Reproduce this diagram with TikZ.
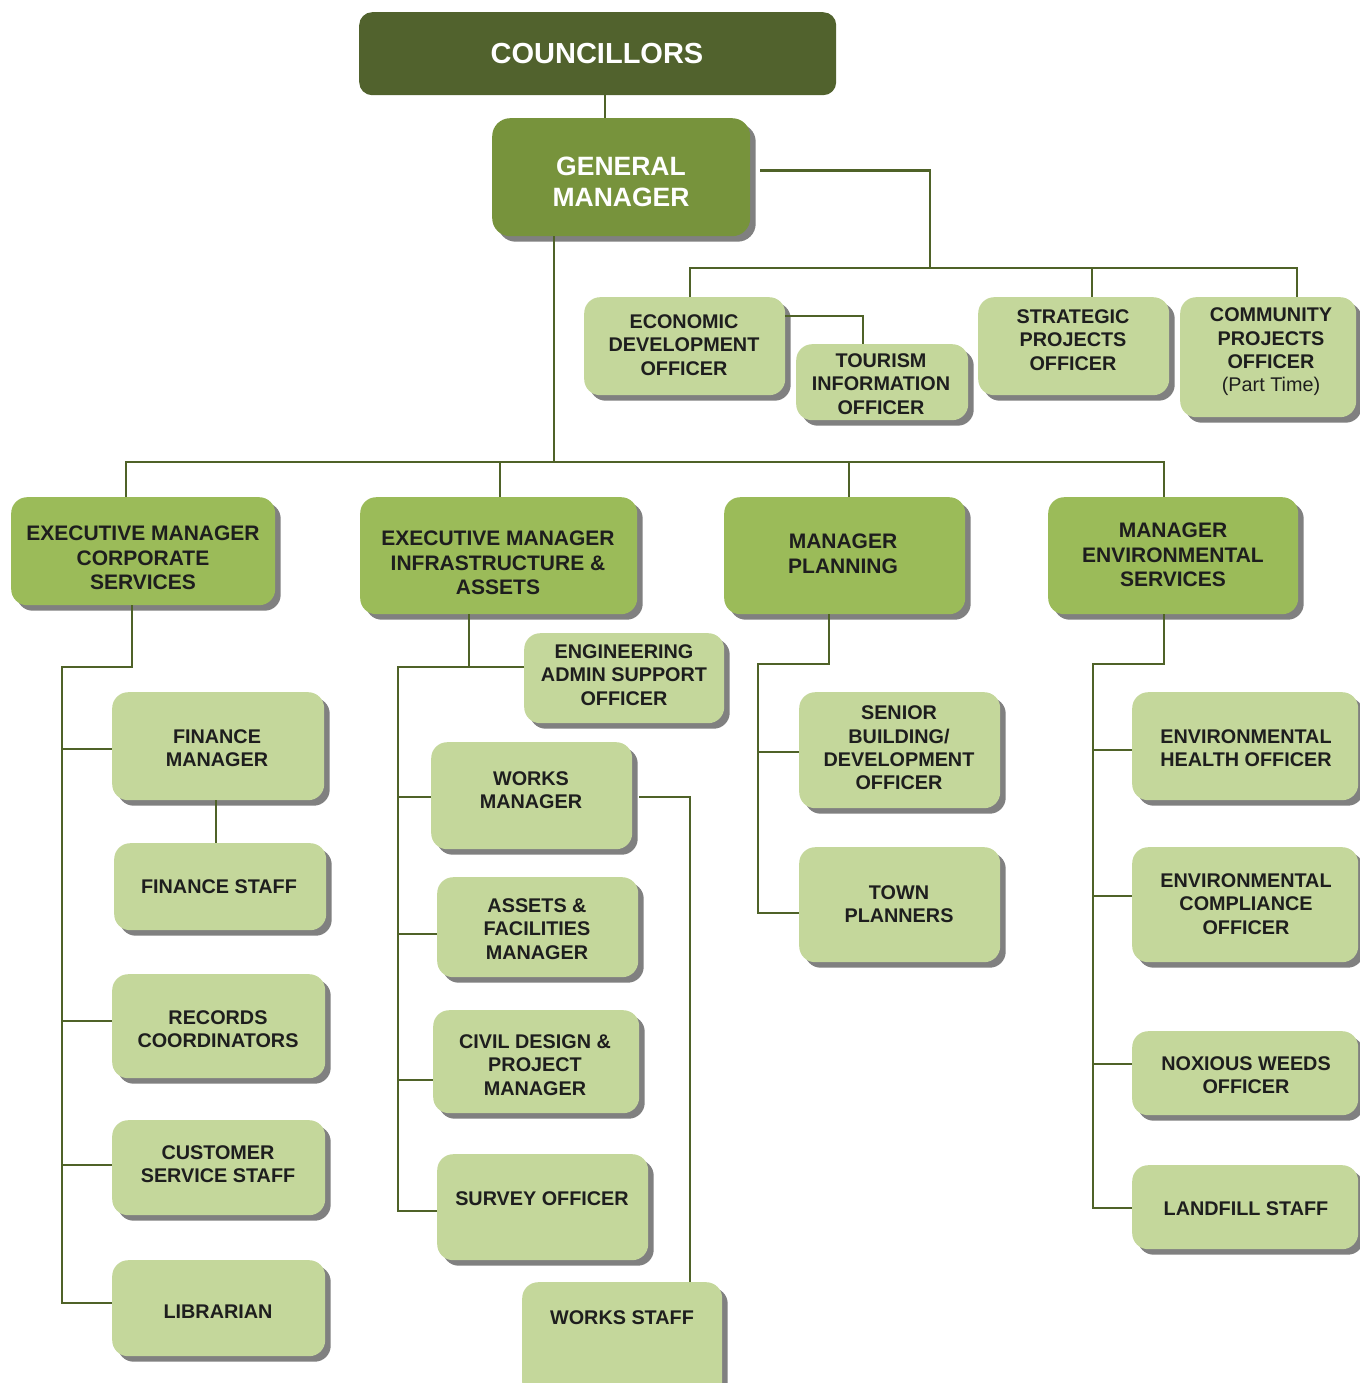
\documentclass[tikz,border=0pt]{standalone}
\usepackage{fontspec}
\setmainfont{Liberation Sans}
\usetikzlibrary{shadows,calc}
\definecolor{councol}{RGB}{81,98,45}
\definecolor{gmcol}{RGB}{119,147,60}
\definecolor{mgrcol}{RGB}{155,187,89}
\definecolor{staffcol}{RGB}{196,215,155}
\definecolor{linecol}{RGB}{79,98,40}
\definecolor{shadcol}{RGB}{128,128,128}
\definecolor{txtcol}{RGB}{30,30,30}
\tikzset{
  shad/.style={drop shadow={shadow xshift=5.5pt, shadow yshift=-5.5pt, fill=shadcol, opacity=1}},
  counbox/.style={fill=councol, rounded corners=13pt, inner sep=0pt},
  gmbox/.style={fill=gmcol, rounded corners=18pt, inner sep=0pt, shad},
  mgrbox/.style={fill=mgrcol, rounded corners=16pt, inner sep=0pt, shad},
  staffbox/.style={fill=staffcol, rounded corners=16pt, inner sep=0pt, shad},
  countxt/.style={text=white, font=\bfseries\fontsize{29}{31}\selectfont, align=center, inner sep=0pt},
  gmtxt/.style={text=white, font=\bfseries\fontsize{26.5}{31}\selectfont, align=center, inner sep=0pt},
  mgrtxt/.style={text=txtcol, font=\bfseries\fontsize{21}{24.5}\selectfont, align=center, inner sep=0pt},
  stafftxt/.style={text=txtcol, font=\bfseries\fontsize{19.8}{23.3}\selectfont, align=center, inner sep=0pt},
  conn/.style={draw=linecol, line width=2.7pt},
}
\newcommand\orgbox[8]{%
  \node[#2box, minimum width={#5-#3}, minimum height={#6-#4}, anchor=north west] (#1) at (#3,#4) {};
  \node[#2txt] (#1-t) at (#7) {#8};
}
\begin{document}
\begin{tikzpicture}[x=1pt,y=-1pt]
\useasboundingbox (0,0) rectangle (1359,1383);
% boxes
\orgbox{coun}{coun}{359}{12}{836}{95}{597,54}{COUNCILLORS}
\orgbox{gm}{gm}{492}{118}{750}{236}{621,182}{GENERAL\\MANAGER}
\orgbox{eco}{staff}{584}{297}{785}{395}{684,345}{ECONOMIC\\DEVELOPMENT\\OFFICER}
\orgbox{tour}{staff}{796}{344}{968}{420}{881,384}{TOURISM\\INFORMATION\\OFFICER}
\orgbox{strat}{staff}{978}{297}{1169}{395}{1073,340}{STRATEGIC\\PROJECTS\\OFFICER}
\orgbox{comm}{staff}{1180}{297}{1356}{417}{1271,352}{COMMUNITY\\PROJECTS\\OFFICER\\{\mdseries (Part Time)}}
\orgbox{emcs}{mgr}{11}{497}{275}{605}{143,558}{EXECUTIVE MANAGER\\CORPORATE\\SERVICES}
\orgbox{emia}{mgr}{360}{497}{637}{614}{498,563}{EXECUTIVE MANAGER\\INFRASTRUCTURE \&\\ASSETS}
\orgbox{mp}{mgr}{724}{497}{965}{614}{843,554}{MANAGER\\PLANNING}
\orgbox{mes}{mgr}{1048}{497}{1298}{614}{1173,555}{MANAGER\\ENVIRONMENTAL\\SERVICES}
\orgbox{finm}{staff}{112}{692}{324}{800}{217,748}{FINANCE\\MANAGER}
\orgbox{fins}{staff}{114}{843}{326}{930}{219,887}{FINANCE STAFF}
\orgbox{rec}{staff}{112}{974}{325}{1078}{218,1029}{RECORDS\\COORDINATORS}
\orgbox{cust}{staff}{112}{1120}{325}{1215}{218,1164}{CUSTOMER\\SERVICE STAFF}
\orgbox{lib}{staff}{112}{1260}{325}{1356}{218,1312}{LIBRARIAN}
\orgbox{eng}{staff}{524}{633}{724}{723}{624,675}{ENGINEERING\\ADMIN SUPPORT\\OFFICER}
\orgbox{wm}{staff}{431}{742}{632}{849}{531,790}{WORKS\\MANAGER}
\orgbox{asset}{staff}{437}{877}{638}{977}{537,929}{ASSETS \&\\FACILITIES\\MANAGER}
\orgbox{civil}{staff}{433}{1010}{639}{1113}{535,1065}{CIVIL DESIGN \&\\PROJECT\\MANAGER}
\orgbox{surv}{staff}{437}{1154}{648}{1260}{542,1199}{SURVEY OFFICER}
\orgbox{ws}{staff}{522}{1282}{722}{1398}{622,1318}{WORKS STAFF}
\orgbox{sen}{staff}{799}{692}{1000}{808}{899,748}{SENIOR\\BUILDING/\\DEVELOPMENT\\OFFICER}
\orgbox{town}{staff}{799}{847}{1000}{962}{899,904}{TOWN\\PLANNERS}
\orgbox{eho}{staff}{1132}{692}{1358}{800}{1246,748}{ENVIRONMENTAL\\HEALTH OFFICER}
\orgbox{ecomp}{staff}{1132}{847}{1358}{962}{1246,904}{ENVIRONMENTAL\\COMPLIANCE\\OFFICER}
\orgbox{nox}{staff}{1132}{1031}{1358}{1115}{1246,1075}{NOXIOUS WEEDS\\OFFICER}
\orgbox{land}{staff}{1132}{1165}{1358}{1249}{1246,1209}{LANDFILL STAFF}
% connectors
\begin{scope}[on background layer/.try]
\end{scope}
\draw[conn] (605,0 |- coun.south) -- (605,0 |- gm.north);
\draw[conn] ($(gm.east)+(10,-7)$) -| (930,268);
\draw[conn] (690,0 |- eco.north) |- (1297,268) -- (1297,0 |- comm.north);
\draw[conn] (1092,268) -- (1092,0 |- strat.north);
\draw[conn] (eco.east |- 0,316) -- (863,316) -- (863,0 |- tour.north);
\draw[conn] (554,0 |- gm.south) -- (554,462);
\draw[conn] (126,0 |- emcs.north) |- (1164,462) -- (1164,0 |- mes.north);
\draw[conn] (500,462) -- (500,0 |- emia.north);
\draw[conn] (849,462) -- (849,0 |- mp.north);
% corporate
\draw[conn] (132,0 |- emcs.south) |- (62,667) |- (lib.west |- 0,1303);
\draw[conn] (62,749) -- (finm.west |- 0,749);
\draw[conn] (62,1021) -- (rec.west |- 0,1021);
\draw[conn] (62,1165) -- (cust.west |- 0,1165);
\draw[conn] (216,0 |- finm.south) -- (216,0 |- fins.north);
% infrastructure
\draw[conn] (469,0 |- emia.south) -- (469,667);
\draw[conn] (eng.west |- 0,667) -- (398,667) |- (surv.west |- 0,1211);
\draw[conn] (398,797) -- (wm.west |- 0,797);
\draw[conn] (398,934) -- (asset.west |- 0,934);
\draw[conn] (398,1080) -- (civil.west |- 0,1080);
\draw[conn] (639,797) -| (ws.north -| 690,0);
% planning
\draw[conn] (829,0 |- mp.south) |- (758,664) |- (town.west |- 0,913);
\draw[conn] (758,752) -- (sen.west |- 0,752);
% environmental
\draw[conn] (1164,0 |- mes.south) |- (1093,664) |- (land.west |- 0,1208);
\draw[conn] (1093,750) -- (eho.west |- 0,750);
\draw[conn] (1093,896) -- (ecomp.west |- 0,896);
\draw[conn] (1093,1064) -- (nox.west |- 0,1064);
\end{tikzpicture}
\end{document}
